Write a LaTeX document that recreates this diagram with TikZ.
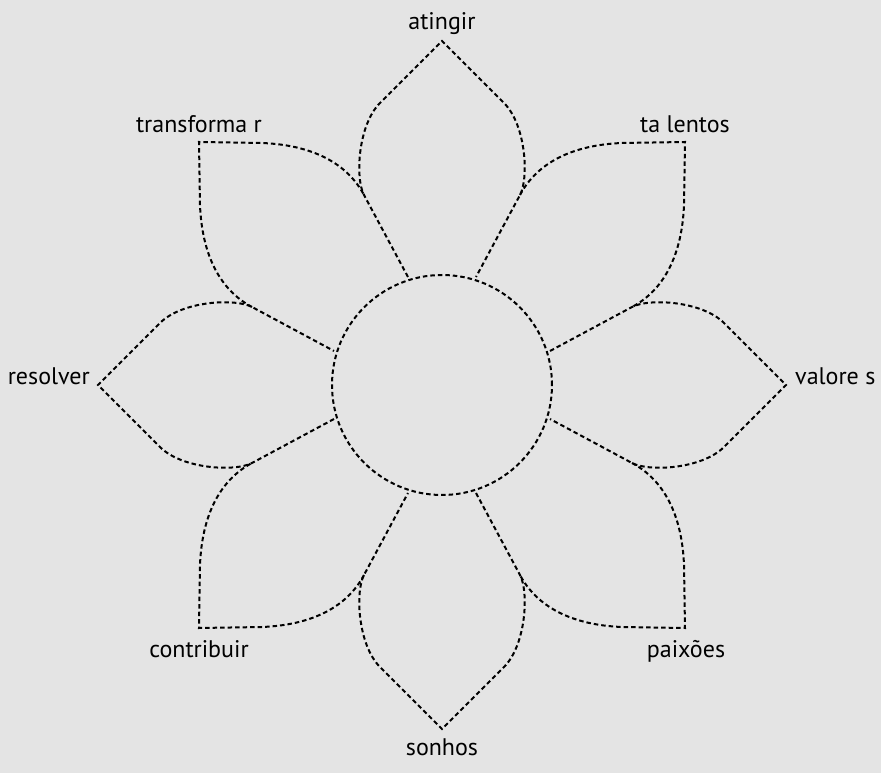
\documentclass[tikz,border=0pt]{standalone}
\usepackage{fontspec}
\setmainfont{PT Sans}
\usetikzlibrary{positioning}

\definecolor{paper}{HTML}{E4E4E4}

\begin{document}
\begin{tikzpicture}[
x=1pt,
y=1pt,
node distance=8pt,
petal/.style={
    draw=black,
    line width=2pt,
    dash pattern=on 4.5pt off 3pt
},
hub/.style={
    petal,
    circle,
    minimum size=220pt,
    inner sep=0pt
},
word/.style={
    inner sep=0pt,
    font=\fontsize{24}{28}\selectfont
}
]

\fill[paper] (-442,-388) rectangle (439,385);

\node[hub] (heart) at (0,0) {};

% tips and corners of the petals
\coordinate (tipN) at (0,344);
\coordinate (tipS) at (0,-345);
\coordinate (tipW) at (-344,0);
\coordinate (tipE) at (345,0);
\coordinate (cornerNW) at (-243,243);
\coordinate (cornerNE) at (243,243);
\coordinate (cornerSW) at (-243,-244);
\coordinate (cornerSE) at (244,-244);

% pointed petals (with the stems they share)
\draw[petal] (-34,108) -- (-78,190) .. controls (-87,207) and (-84,260) .. (-62,282)
    -- (0,344) -- (62,282) .. controls (84,260) and (87,207) .. (78,190) -- (34,108);
\draw[petal, rotate=90] (-34,108) -- (-78,190) .. controls (-87,207) and (-84,260) .. (-62,282)
    -- (0,344) -- (62,282) .. controls (84,260) and (87,207) .. (78,190) -- (34,108);
\draw[petal, rotate=180] (-34,108) -- (-78,190) .. controls (-87,207) and (-84,260) .. (-62,282)
    -- (0,344) -- (62,282) .. controls (84,260) and (87,207) .. (78,190) -- (34,108);
\draw[petal, rotate=270] (-34,108) -- (-78,190) .. controls (-87,207) and (-84,260) .. (-62,282)
    -- (0,344) -- (62,282) .. controls (84,260) and (87,207) .. (78,190) -- (34,108);

% square petals
\draw[petal] (78,190) .. controls (95,222) and (130,240) .. (180,242)
    -- (243,243) -- (242,180) .. controls (240,130) and (222,95) .. (190,78);
\draw[petal, rotate=90] (78,190) .. controls (95,222) and (130,240) .. (180,242)
    -- (243,243) -- (242,180) .. controls (240,130) and (222,95) .. (190,78);
\draw[petal, rotate=180] (78,190) .. controls (95,222) and (130,240) .. (180,242)
    -- (243,243) -- (242,180) .. controls (240,130) and (222,95) .. (190,78);
\draw[petal, rotate=270] (78,190) .. controls (95,222) and (130,240) .. (180,242)
    -- (243,243) -- (242,180) .. controls (240,130) and (222,95) .. (190,78);

\node[word, above=11pt of tipN, anchor=base] (atingir) {atingir};
\node[word, below=8pt of tipS] (sonhos) {sonhos};
\node[word, left=8pt of tipW, anchor=base east] (resolver) {resolver};
\node[word, right=8pt of tipE, anchor=base west] (valores) {valore s};
\node[word, above=9pt of cornerNW, anchor=base] (transformar) {transforma r};
\node[word, above=9pt of cornerNE, anchor=base] (talentos) {ta lentos};
\node[word, below=11pt of cornerSW] (contribuir) {contribuir};
\node[word, below=11pt of cornerSE] (paixoes) {paixões};

\end{tikzpicture}
\end{document}
